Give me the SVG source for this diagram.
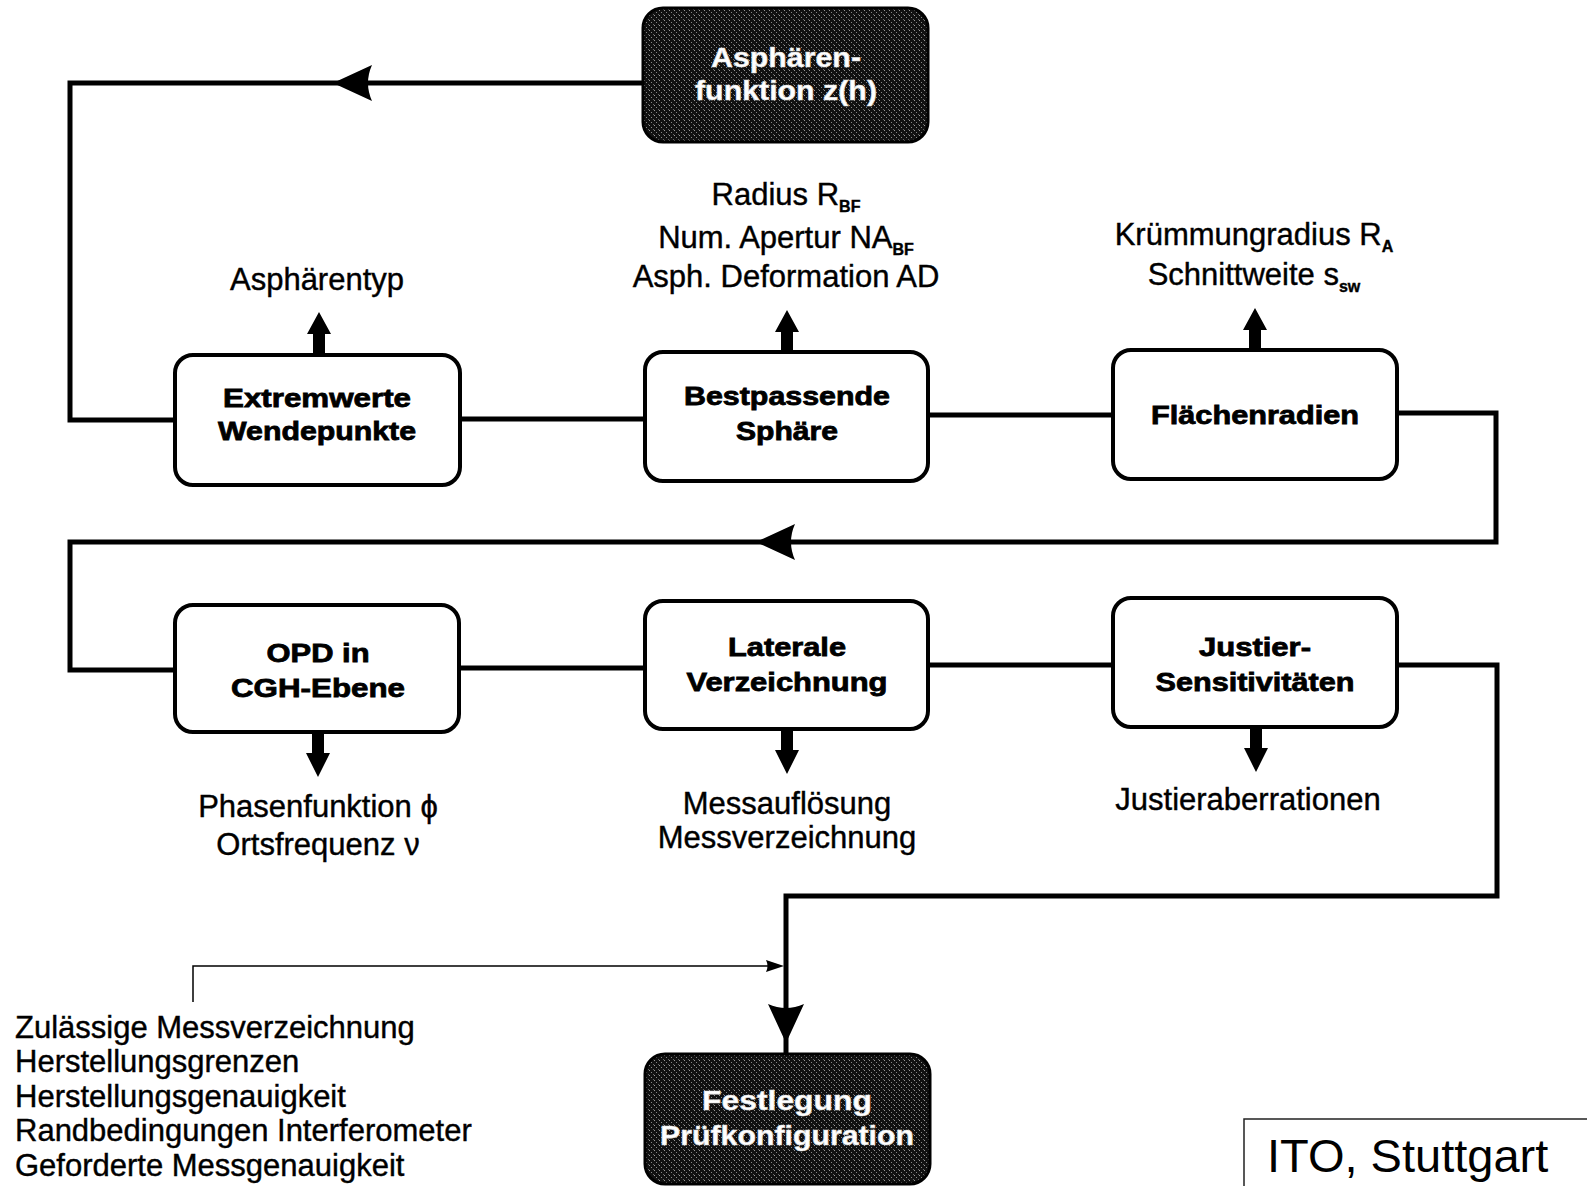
<svg xmlns="http://www.w3.org/2000/svg" xmlns:xlink="http://www.w3.org/1999/xlink" width="1587" height="1186" viewBox="0 0 1587 1186">
<style>
.box{fill:#fff;stroke:#000;stroke-width:4}
.dark{fill:url(#grain);stroke:#000;stroke-width:3}
.bt{font-family:"Liberation Sans",Arial,sans-serif;font-weight:bold;font-size:26px;text-anchor:middle;fill:#000;stroke:#000;stroke-width:0.8}
.wt{font-family:"Liberation Sans",Arial,sans-serif;font-weight:bold;font-size:27px;text-anchor:middle;fill:#fff;stroke:#ddd;stroke-width:0.6}
.lt{font-family:"Liberation Sans",Arial,sans-serif;font-size:31px;text-anchor:middle;fill:#000;stroke:#000;stroke-width:0.4}
.ll{font-family:"Liberation Sans",Arial,sans-serif;font-size:31px;fill:#000;stroke:#000;stroke-width:0.4}
.sub{font-size:16px;font-weight:bold}
.conn{fill:none;stroke:#000;stroke-width:5;stroke-linejoin:miter}
.thin{fill:none;stroke:#000;stroke-width:1.5}
.ito{font-family:"Liberation Sans",Arial,sans-serif;font-size:47px;fill:#000}
</style>
<defs>
<pattern id="grain" width="5" height="5" patternUnits="userSpaceOnUse">
<rect width="5" height="5" fill="#111"/>
<rect x="1" y="2" width="1" height="1" fill="#888"/>
<rect x="3" y="4" width="1" height="1" fill="#666"/>
<rect x="4" y="0" width="1" height="1" fill="#999"/>
</pattern>
<path id="arrL" d="M0,0 L39,-18 Q31,0 39,18 Z" fill="#000"/>
<path id="up" d="M-6,0 V-21 H-12 L0,-43 L12,-21 H6 V0 Z" fill="#000"/>
<path id="down" d="M-6,0 V21 H-12 L0,45 L12,21 H6 V0 Z" fill="#000"/>
</defs>
<rect width="1587" height="1186" fill="#fff"/>

<g id="connectors">
<path class="conn" d="M643,83 H70 V420 H175"/>
<use xlink:href="#arrL" transform="translate(333,83)"/>
<path class="conn" d="M459,419 H645"/>
<path class="conn" d="M928,415 H1113"/>
<path class="conn" d="M1397,413 H1496 V542 H70 V670 H175"/>
<use xlink:href="#arrL" transform="translate(756,542)"/>
<path class="conn" d="M459,668 H645"/>
<path class="conn" d="M928,665 H1113"/>
<path class="conn" d="M1397,665 H1497 V896 H786 V1054"/>
<use xlink:href="#arrL" transform="translate(786,1043) rotate(-90)"/>
<path class="thin" d="M193,1002 V966 H770"/>
<path d="M784,966 L766,960 Q769,966 766,972 Z" fill="#000"/>
<use xlink:href="#up" transform="translate(319,355)"/>
<use xlink:href="#up" transform="translate(787,353)"/>
<use xlink:href="#up" transform="translate(1255,351)"/>
<use xlink:href="#down" transform="translate(318,732)"/>
<use xlink:href="#down" transform="translate(787,729)"/>
<use xlink:href="#down" transform="translate(1256,727)"/>
</g>

<g id="node-asphaerenfunktion">
<rect class="dark" x="643" y="8" width="285" height="134" rx="20"/>
<text class="wt" x="786" y="67" textLength="150" lengthAdjust="spacingAndGlyphs">Asphären-</text>
<text class="wt" x="786" y="100" textLength="182" lengthAdjust="spacingAndGlyphs">funktion z(h)</text>
</g>

<g id="node-extremwerte">
<rect class="box" x="175" y="355" width="285" height="130" rx="18"/>
<text class="bt" x="317" y="407" textLength="188" lengthAdjust="spacingAndGlyphs">Extremwerte</text>
<text class="bt" x="317" y="440" textLength="198" lengthAdjust="spacingAndGlyphs">Wendepunkte</text>
</g>

<g id="node-bestpassende">
<rect class="box" x="645" y="352" width="283" height="129" rx="18"/>
<text class="bt" x="787" y="405" textLength="206" lengthAdjust="spacingAndGlyphs">Bestpassende</text>
<text class="bt" x="787" y="440" textLength="102" lengthAdjust="spacingAndGlyphs">Sphäre</text>
</g>

<g id="node-flaechenradien">
<rect class="box" x="1113" y="350" width="284" height="129" rx="18"/>
<text class="bt" x="1255" y="424" textLength="208" lengthAdjust="spacingAndGlyphs">Flächenradien</text>
</g>

<g id="node-opd">
<rect class="box" x="175" y="605" width="284" height="127" rx="18"/>
<text class="bt" x="318" y="662" textLength="103" lengthAdjust="spacingAndGlyphs">OPD in</text>
<text class="bt" x="318" y="697" textLength="174" lengthAdjust="spacingAndGlyphs">CGH-Ebene</text>
</g>

<g id="node-laterale">
<rect class="box" x="645" y="601" width="283" height="128" rx="18"/>
<text class="bt" x="787" y="656" textLength="118" lengthAdjust="spacingAndGlyphs">Laterale</text>
<text class="bt" x="787" y="691" textLength="201" lengthAdjust="spacingAndGlyphs">Verzeichnung</text>
</g>

<g id="node-justier">
<rect class="box" x="1113" y="598" width="284" height="129" rx="18"/>
<text class="bt" x="1255" y="656" textLength="112" lengthAdjust="spacingAndGlyphs">Justier-</text>
<text class="bt" x="1255" y="691" textLength="199" lengthAdjust="spacingAndGlyphs">Sensitivitäten</text>
</g>

<g id="node-festlegung">
<rect class="dark" x="645" y="1054" width="285" height="130" rx="20"/>
<text class="wt" x="787" y="1110" textLength="170" lengthAdjust="spacingAndGlyphs">Festlegung</text>
<text class="wt" x="787" y="1145" textLength="254" lengthAdjust="spacingAndGlyphs">Prüfkonfiguration</text>
</g>

<g id="labels">
<text class="lt" x="317" y="290">Asphärentyp</text>
<text class="lt" x="786" y="205">Radius R<tspan class="sub" dy="7">BF</tspan></text>
<text class="lt" x="786" y="248">Num. Apertur NA<tspan class="sub" dy="7">BF</tspan></text>
<text class="lt" x="786" y="287">Asph. Deformation AD</text>
<text class="lt" x="1254" y="245">Krümmungradius R<tspan class="sub" dy="7">A</tspan></text>
<text class="lt" x="1254" y="285">Schnittweite s<tspan class="sub" dy="7">sw</tspan></text>
<text class="lt" x="318" y="817">Phasenfunktion ϕ</text>
<text class="lt" x="318" y="855">Ortsfrequenz ν</text>
<text class="lt" x="787" y="814">Messauflösung</text>
<text class="lt" x="787" y="848">Messverzeichnung</text>
<text class="lt" x="1248" y="810">Justieraberrationen</text>
<text class="ll" x="15" y="1038">Zulässige Messverzeichnung</text>
<text class="ll" x="15" y="1072">Herstellungsgrenzen</text>
<text class="ll" x="15" y="1107">Herstellungsgenauigkeit</text>
<text class="ll" x="15" y="1141">Randbedingungen Interferometer</text>
<text class="ll" x="15" y="1176">Geforderte Messgenauigkeit</text>
</g>

<g id="ito">
<rect x="1244" y="1119" width="400" height="100" fill="none" stroke="#222" stroke-width="1.5"/>
<text class="ito" x="1267" y="1172">ITO, Stuttgart</text>
</g>
</svg>
